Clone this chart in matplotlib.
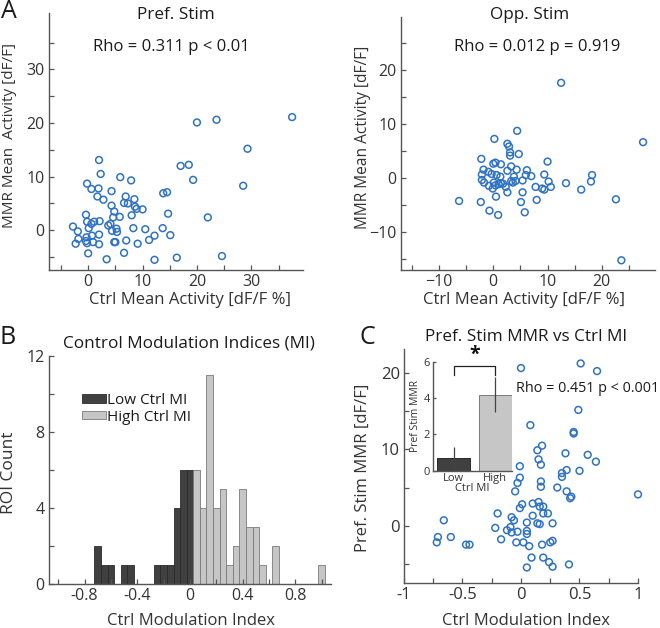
import matplotlib
matplotlib.use("Agg")
import matplotlib.pyplot as plt
from matplotlib.ticker import FixedLocator
import numpy as np

plt.rcParams['font.family'] = ['Open Sans', 'DejaVu Sans']

# ---------------- data ----------------
# Panel A left: Pref. Stim
prefA_x = [37.5, 23.6, 20.0, 29.3, 17.0, 18.5, 19.3, 28.5, 22.0, 24.6, 2.0, 2.3, 5.9, 7.9, -0.2, 0.6,
           1.9, 1.7, 2.8, 4.3, 6.9, 6.6, 7.3, 8.5, 8.6, 8.9, 10.0, 4.3, 4.8, 4.6, 5.8, 8.0, 13.8, 14.5,
           14.7, -0.4, -0.2, 0.6, 1.1, 2.1, 0.1, 3.7, 4.1, 4.4, 5.2, 5.3, 8.3, 10.5, 13.7, -2.8, -1.9,
           -1.8, -2.3, -0.3, -0.2, -0.4, 0.7, 0.9, 2.0, 2.0, 4.8, 5.0, 7.0, 9.1, 11.2, 12.2, 15.1, 0.0,
           3.4, 6.6, 12.2, 16.3]
prefA_y = [21.1, 20.6, 20.1, 15.2, 12.0, 12.2, 9.4, 8.3, 2.4, -4.8, 13.1, 10.5, 9.9, 9.3, 8.7, 7.7,
           7.8, 6.3, 5.7, 7.3, 6.3, 5.1, 5.0, 5.8, 4.4, 4.0, 3.9, 4.6, 3.5, 2.4, 2.5, 2.8, 6.9, 7.1,
           3.1, 2.9, 1.6, 1.2, 1.6, 1.7, 0.4, 0.9, 1.2, -0.1, 0.3, -0.3, 0.4, 0.2, 0.4, 0.7, -0.2,
           -1.6, -2.5, -1.3, -2.4, -2.0, -1.0, -2.2, -0.8, -2.6, -2.2, -2.2, -1.9, -2.5, -1.8, -1.0, -0.9, -4.3,
           -5.4, -4.2, -5.5, -5.1]

# Panel A right: Opp. Stim
opp_x = [12.5, 27.6, 4.4, 0.2, 2.6, 2.9, 3.1, 3.1, 4.7, -2.2, 10.0, 0.0, 0.4, 1.4, 3.3, -1.8, 2.6,
         4.3, 6.2, -0.9, -2.1, -0.3, 0.6, 1.3, 3.8, 6.0, 7.0, 9.4, 18.2, -2.1, -1.7, -0.8, 0.1, 0.4,
         1.0, 1.4, 1.8, 2.3, 3.3, 3.6, 4.1, 5.4, 7.8, 9.0, 9.4, 10.2, 10.6, 13.4, 18.0, 16.2, -0.1,
         2.6, 5.4, 0.5, -6.3, -2.3, 5.1, 8.0, 22.6, -0.7, 0.9, 5.8, 23.6]
opp_y = [17.6, 6.6, 8.7, 7.2, 6.3, 5.8, 4.7, 4.1, 4.4, 3.5, 3.0, 2.6, 2.8, 2.5, 2.1, 1.5, 1.3,
         1.5, 1.4, 1.1, 0.6, 0.7, 0.5, 0.2, 0.2, 0.5, 0.3, 0.6, 0.5, -0.4, -0.9, -1.5, -0.9, -1.4,
         -1.2, -1.0, -1.1, -1.7, -0.6, -0.9, -0.6, -0.5, -1.7, -2.0, -2.2, -0.7, -1.7, -1.0, -0.7, -2.2, -2.0,
         -2.7, -2.7, -3.5, -4.3, -4.5, -4.5, -4.1, -4.0, -6.1, -6.9, -6.4, -15.3]

# Panel B: histogram of control modulation indices (bin centres, width 0.05)
low_bins = [-0.70, -0.65, -0.60, -0.50, -0.45, -0.25, -0.20, -0.15, -0.10, -0.05, 0.00]
low_counts = [2, 1, 1, 1, 1, 1, 1, 1, 4, 6, 6]
high_bins = [0.05, 0.10, 0.15, 0.20, 0.25, 0.30, 0.35, 0.40, 0.45, 0.50, 0.55, 0.65, 1.00]
high_counts = [6, 4, 11, 4, 5, 1, 2, 5, 3, 3, 1, 2, 1]
bin_width = 0.05

# Panel C: Pref. Stim MMR vs Ctrl MI
mi_x = [0.0, 0.51, 0.65, 0.49, 0.08, 0.45, 0.45, 0.18, 0.14, 0.38, 0.57, 0.15, 0.64, 0.17, -0.01,
        0.39, 0.50, 0.35, 0.35, -0.01, -0.03, 0.17, 0.17, 0.31, -0.05, 0.39, 0.43, 0.42, 1.0, 0.10,
        0.15, 0.01, -0.01, 0.16, 0.19, 0.19, 0.23, -0.20, -0.08, -0.06, 0.10, 0.05, 0.14, 0.16, 0.27,
        -0.66, -0.22, -0.12, -0.09, -0.08, -0.03, 0.05, 0.05, -0.71, -0.72, -0.60, -0.17, -0.04, 0.02,
        0.07, -0.47, -0.44, 0.18, 0.25, 0.27, 0.09, 0.19, 0.24, 0.27, 0.41, 0.05]
mmr_y = [20.7, 21.3, 20.3, 15.2, 13.2, 12.3, 12.1, 10.5, 9.9, 9.5, 9.3, 8.7, 8.4, 8.0, 7.8,
         7.3, 7.2, 6.9, 6.4, 6.3, 5.6, 5.8, 5.1, 5.0, 4.5, 4.5, 3.8, 3.6, 4.1, 2.9,
         3.1, 2.8, 2.3, 2.5, 2.5, 1.6, 1.6, 1.6, 1.1, 0.7, 1.3, 0.4, 0.3, 0.2, 0.3,
         0.7, -0.3, -0.6, -0.2, -0.9, -0.8, -0.7, -1.1, -1.5, -2.2, -1.5, -1.8, -2.2, -2.2,
         -2.7, -2.5, -2.5, -2.5, -2.2, -2.0, -4.2, -4.2, -4.8, -5.4, -5.1, -5.5]

# Inset bar chart
inset_groups = ['Low', 'High']
inset_means = [0.7, 4.2]
inset_err = [0.62, 0.95]

# ---------------- style ----------------
W, H = 660, 628
BLUE = '#2f72c4'
DARK = '#404040'
LIGHT = '#c6c6c6'
SPINE = '#555555'
TXT = '#333333'

fig = plt.figure(figsize=(W / 100, H / 100), dpi=100)


def rect(x0, y0, x1, y1):
    return [x0 / W, 1 - y1 / H, (x1 - x0) / W, (y1 - y0) / H]


def ftext(x, y, s, **kw):
    kw.setdefault('ha', 'center')
    kw.setdefault('va', 'center')
    kw.setdefault('color', '#1a1a1a')
    return fig.text(x / W, 1 - y / H, s, **kw)


def style(ax, tick_fs=11):
    for sp in ['top', 'right']:
        ax.spines[sp].set_visible(False)
    for sp in ['left', 'bottom']:
        ax.spines[sp].set_color(SPINE)
        ax.spines[sp].set_linewidth(1.0)
    ax.tick_params(which='both', direction='in', length=3.5, width=0.9, color=SPINE,
                   labelsize=tick_fs, labelcolor=TXT, pad=3)


# ---- Panel A left ----
ax1 = fig.add_axes(rect(49, 13, 303, 270))
ax1.scatter(prefA_x, prefA_y, s=24, facecolors='none', edgecolors=BLUE, linewidths=1.1, clip_on=False)
ax1.set_xlim(-7.2, 39.5)
ax1.set_ylim(-7.4, 40.5)
ax1.xaxis.set_major_locator(FixedLocator([0, 10, 20, 30]))
ax1.yaxis.set_major_locator(FixedLocator([0, 10, 20, 30]))
ax1.xaxis.set_minor_locator(FixedLocator([-5, 5, 15, 25, 35]))
ax1.yaxis.set_minor_locator(FixedLocator([-5, 5, 15, 25, 35]))
style(ax1, tick_fs=11.5)

# ---- Panel A right ----
ax2 = fig.add_axes(rect(401, 17, 655, 270))
ax2.scatter(opp_x, opp_y, s=24, facecolors='none', edgecolors=BLUE, linewidths=1.1, clip_on=False)
ax2.set_xlim(-17, 29.8)
ax2.set_ylim(-17.1, 29.8)
ax2.xaxis.set_major_locator(FixedLocator([-10, 0, 10, 20]))
ax2.yaxis.set_major_locator(FixedLocator([-10, 0, 10, 20]))
ax2.xaxis.set_minor_locator(FixedLocator([-15, -5, 5, 15, 25]))
ax2.yaxis.set_minor_locator(FixedLocator([-15, -5, 5, 15, 25]))
style(ax2, tick_fs=11.5)

# ---- Panel B histogram ----
ax3 = fig.add_axes(rect(49, 356, 331, 584))
ax3.bar(low_bins, low_counts, width=bin_width, color=DARK, edgecolor='#2a2a2a', linewidth=0.6,
        label='Low Ctrl MI')
ax3.bar(high_bins, high_counts, width=bin_width, color=LIGHT, edgecolor='#7a7a7a', linewidth=0.6,
        label='High Ctrl MI')
ax3.set_xlim(-1.07, 1.07)
ax3.set_ylim(0, 12)
ax3.xaxis.set_major_locator(FixedLocator([-0.8, -0.4, 0, 0.4, 0.8]))
ax3.xaxis.set_minor_locator(FixedLocator([-1.0, -0.6, -0.2, 0.2, 0.6, 1.0]))
ax3.yaxis.set_major_locator(FixedLocator([0, 4, 8, 12]))
ax3.yaxis.set_minor_locator(FixedLocator([2, 6, 10]))
ax3.set_xticklabels(['-0.8', '-0.4', '0', '0.4', '0.8'])
style(ax3, tick_fs=11.5)
leg = ax3.legend(loc='upper left', bbox_to_anchor=((82 - 49) / (331 - 49), 1 - (393 - 356) / (584 - 356)),
                 frameon=False, fontsize=11, handlelength=1.6, handleheight=0.5,
                 handletextpad=0.05, labelspacing=0.1, borderaxespad=0, borderpad=0)
for t in leg.get_texts():
    t.set_color('#1a1a1a')

# ---- Panel C scatter ----
ax4 = fig.add_axes(rect(404, 349, 638, 582.7))
ax4.scatter(mi_x, mmr_y, s=24, facecolors='none', edgecolors=BLUE, linewidths=1.1, clip_on=False)
ax4.set_xlim(-1, 1)
ax4.set_ylim(-7.5, 23.2)
ax4.xaxis.set_major_locator(FixedLocator([-1, -0.5, 0, 0.5, 1]))
ax4.xaxis.set_minor_locator(FixedLocator([-0.75, -0.25, 0.25, 0.75]))
ax4.yaxis.set_major_locator(FixedLocator([0, 10, 20]))
ax4.yaxis.set_minor_locator(FixedLocator([-5, 5, 15]))
ax4.set_xticklabels(['-1', '-0.5', '0', '0.5', '1'])
style(ax4, tick_fs=12)

# ---- Inset ----
ax5 = fig.add_axes(rect(433, 362, 512, 470.7))
xpos = np.arange(1, len(inset_groups) + 1)
ax5.bar(xpos, inset_means, width=0.8, color=[DARK, LIGHT], edgecolor=['#2a2a2a', '#7a7a7a'], linewidth=0.7)
ax5.errorbar(xpos, inset_means, yerr=inset_err, fmt='none', ecolor='#444444', elinewidth=0.9, capsize=0)
ax5.set_xlim(0.5, 2.4)
ax5.set_ylim(0, 6)
ax5.set_xticks(xpos)
ax5.set_xticklabels(inset_groups)
ax5.yaxis.set_major_locator(FixedLocator([0, 2, 4, 6]))
style(ax5, tick_fs=8)
ax5.tick_params(axis='x', length=0, pad=2)
ax5.tick_params(axis='y', length=2.5, pad=2)
ax5.set_ylabel('Pref Stim MMR', fontsize=7.5, color=TXT, labelpad=2)
ax5.set_xlabel('Ctrl MI', fontsize=8, color=TXT, labelpad=-1)
# significance bracket
ax5.plot([1, 1, 2, 2], [5.28, 5.78, 5.78, 5.28], color='#222222', lw=0.9, clip_on=False)
ax5.text(1.5, 5.85, '*', ha='center', va='bottom', fontsize=14, color='#111111', fontweight='bold')

# ---------------- texts ----------------
ftext(9, 11, 'A', fontsize=18)
ftext(8, 337, 'B', fontsize=18)
ftext(367, 338, 'C', fontsize=18)

ftext(176, 15, 'Pref. Stim', fontsize=12.3)
ftext(530, 15, 'Opp. Stim', fontsize=12.3)
ftext(171, 47, 'Rho = 0.311 p < 0.01', fontsize=12)
ftext(537, 47, 'Rho = 0.012 p = 0.919', fontsize=12)

ftext(190, 300, 'Ctrl Mean Activity [dF/F %]', fontsize=12, color=TXT)
ftext(524, 300, 'Ctrl Mean Activity [dF/F %]', fontsize=12, color=TXT)
ftext(10, 135, 'MMR Mean  Activity [dF/F]', fontsize=11, rotation=90, color=TXT)
ftext(363, 137, 'MMR Mean Activity [dF/F]', fontsize=11.2, rotation=90, color=TXT)

ftext(189, 343, 'Control Modulation Indices (MI)', fontsize=12.3)
ftext(9, 473, 'ROI Count', fontsize=12.5, rotation=90, color=TXT)
ftext(191, 621, 'Ctrl Modulation Index', fontsize=12, color=TXT)

ftext(526, 337, 'Pref. Stim MMR vs Ctrl MI', fontsize=12.3)
ftext(516, 389, 'Rho = 0.451 p < 0.001', fontsize=10.4, ha='left')
ftext(363, 468, 'Pref. Stim MMR [dF/F]', fontsize=12, rotation=90, color=TXT)
ftext(526, 621, 'Ctrl Modulation Index', fontsize=12, color=TXT)

fig.savefig('out.png', dpi=100)
